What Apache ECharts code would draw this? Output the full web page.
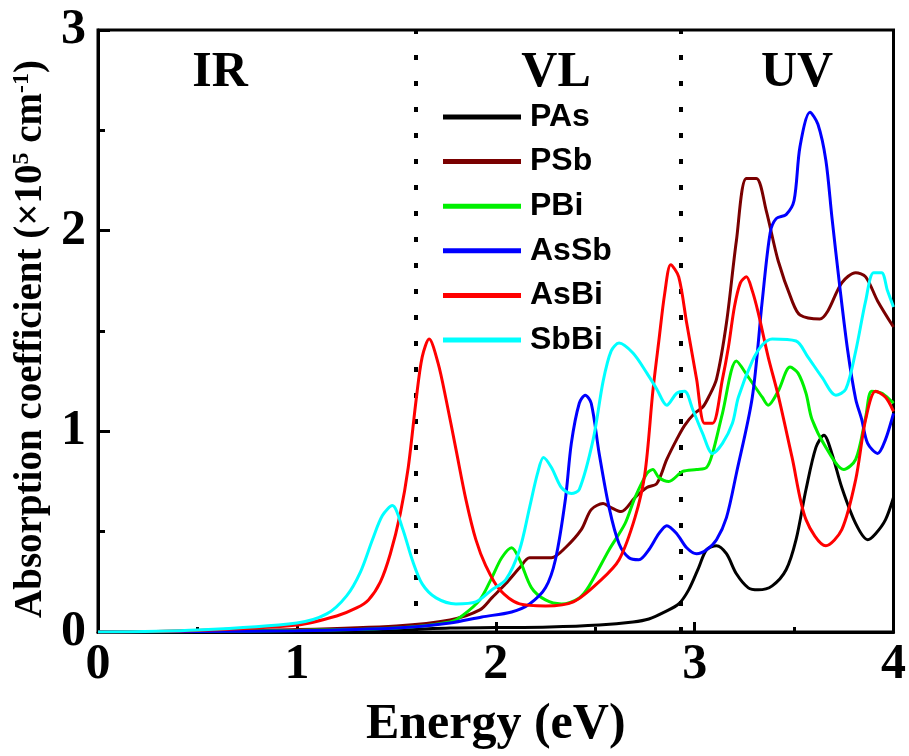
<!DOCTYPE html>
<html>
<head>
<meta charset="utf-8">
<script src="https://cdn.jsdelivr.net/npm/echarts@6/dist/echarts.min.js"></script>
<style>
  html, body { margin: 0; padding: 0; background: #fff; }
  #main { width: 909px; height: 756px; }
</style>
</head>
<body>
<div id="main"></div>
<script>
// data: [energy (eV), absorption (x10^5 cm^-1)]
var seriesNames = ['PAs', 'PSb', 'PBi', 'AsSb', 'AsBi', 'SbBi'];
var seriesColors = ['#000000', '#7a0000', '#00f000', '#0000ff', '#ff0000', '#00ffff'];
var xTicks = [0, 1, 2, 3, 4];
var yTicks = [0, 1, 2, 3];
var dividers = [1.6, 2.93];
var regions = ['IR', 'VL', 'UV'];

var pAs = [[0,0],[0.5,0.002],[1.0,0.005],[1.5,0.01],[1.77,0.02],[2.0,0.022],[2.27,0.025],[2.52,0.035],[2.69,0.05],[2.77,0.065],[2.85,0.1],[2.92,0.14],[2.97,0.21],[3.02,0.32],[3.06,0.41],[3.11,0.43],[3.16,0.39],[3.21,0.29],[3.27,0.22],[3.32,0.21],[3.39,0.23],[3.46,0.31],[3.51,0.46],[3.56,0.71],[3.61,0.92],[3.65,0.98],[3.69,0.89],[3.74,0.72],[3.81,0.54],[3.87,0.46],[3.91,0.49],[3.96,0.56],[4.0,0.67]];
var pSb = [[0,0],[0.5,0.005],[1.0,0.012],[1.5,0.03],[1.77,0.06],[1.92,0.11],[1.98,0.17],[2.05,0.24],[2.12,0.32],[2.17,0.37],[2.22,0.37],[2.28,0.37],[2.35,0.42],[2.43,0.51],[2.48,0.61],[2.54,0.64],[2.58,0.62],[2.63,0.60],[2.70,0.67],[2.76,0.72],[2.81,0.74],[2.86,0.86],[2.91,0.96],[2.95,1.03],[3.00,1.09],[3.04,1.12],[3.07,1.17],[3.11,1.26],[3.16,1.54],[3.21,1.95],[3.26,2.26],[3.31,2.26],[3.36,2.10],[3.42,1.85],[3.49,1.65],[3.53,1.58],[3.63,1.56],[3.67,1.60],[3.74,1.74],[3.81,1.79],[3.86,1.77],[3.92,1.65],[4.0,1.52]];
var pBi = [[0,0],[0.5,0.003],[1.0,0.008],[1.5,0.02],[1.77,0.05],[1.83,0.08],[1.92,0.16],[1.98,0.27],[2.03,0.37],[2.08,0.42],[2.12,0.36],[2.18,0.22],[2.25,0.16],[2.33,0.14],[2.42,0.17],[2.47,0.23],[2.57,0.41],[2.65,0.54],[2.70,0.67],[2.76,0.79],[2.79,0.81],[2.82,0.77],[2.87,0.75],[2.94,0.80],[3.01,0.81],[3.06,0.82],[3.09,0.89],[3.14,1.09],[3.21,1.35],[3.27,1.27],[3.34,1.17],[3.37,1.13],[3.42,1.20],[3.48,1.32],[3.52,1.29],[3.56,1.19],[3.59,1.06],[3.66,0.92],[3.75,0.81],[3.81,0.86],[3.86,1.07],[3.89,1.20],[3.94,1.19],[3.99,1.15],[4.0,1.14]];
var asSb = [[0,0],[0.5,0.002],[1.0,0.006],[1.5,0.02],[1.77,0.045],[1.93,0.075],[2.08,0.10],[2.17,0.14],[2.25,0.22],[2.30,0.36],[2.35,0.66],[2.38,0.94],[2.42,1.14],[2.45,1.18],[2.48,1.14],[2.52,0.89],[2.57,0.62],[2.62,0.44],[2.67,0.37],[2.72,0.36],[2.77,0.41],[2.82,0.49],[2.86,0.53],[2.91,0.49],[2.96,0.42],[3.01,0.39],[3.06,0.41],[3.11,0.46],[3.16,0.57],[3.21,0.79],[3.29,1.17],[3.34,1.65],[3.38,1.99],[3.41,2.06],[3.46,2.08],[3.50,2.15],[3.53,2.42],[3.58,2.59],[3.62,2.53],[3.66,2.35],[3.69,2.07],[3.73,1.72],[3.77,1.40],[3.81,1.16],[3.84,1.06],[3.87,0.94],[3.92,0.89],[3.96,0.96],[4.0,1.09]];
var asBi = [[0,0],[0.5,0.008],[1.0,0.035],[1.2,0.08],[1.3,0.12],[1.36,0.16],[1.42,0.25],[1.47,0.39],[1.52,0.59],[1.56,0.82],[1.60,1.16],[1.63,1.37],[1.665,1.46],[1.71,1.34],[1.75,1.16],[1.80,0.91],[1.85,0.66],[1.90,0.46],[1.95,0.33],[2.02,0.21],[2.12,0.14],[2.25,0.13],[2.39,0.15],[2.53,0.26],[2.62,0.36],[2.70,0.57],[2.75,0.79],[2.79,1.2],[2.82,1.45],[2.85,1.69],[2.88,1.83],[2.92,1.77],[2.96,1.54],[3.01,1.26],[3.05,1.04],[3.09,1.04],[3.14,1.26],[3.17,1.42],[3.20,1.62],[3.23,1.74],[3.26,1.77],[3.29,1.70],[3.32,1.59],[3.37,1.37],[3.42,1.18],[3.49,0.87],[3.56,0.56],[3.66,0.43],[3.74,0.51],[3.81,0.76],[3.86,1.06],[3.91,1.20],[3.96,1.17],[4.0,1.10]];
var sbBi = [[0,0],[0.5,0.01],[1.0,0.045],[1.15,0.09],[1.25,0.18],[1.32,0.30],[1.38,0.46],[1.43,0.58],[1.48,0.63],[1.53,0.52],[1.58,0.36],[1.63,0.24],[1.70,0.17],[1.80,0.14],[1.90,0.15],[1.98,0.21],[2.05,0.26],[2.12,0.41],[2.17,0.62],[2.21,0.79],[2.24,0.87],[2.28,0.82],[2.33,0.72],[2.38,0.69],[2.42,0.71],[2.49,0.96],[2.54,1.25],[2.58,1.40],[2.62,1.44],[2.69,1.39],[2.76,1.29],[2.81,1.21],[2.86,1.13],[2.91,1.19],[2.95,1.20],[2.99,1.11],[3.04,0.99],[3.09,0.89],[3.14,0.94],[3.19,1.04],[3.22,1.17],[3.29,1.35],[3.34,1.43],[3.39,1.46],[3.51,1.45],[3.57,1.37],[3.64,1.27],[3.71,1.18],[3.76,1.21],[3.81,1.40],[3.86,1.65],[3.90,1.79],[3.94,1.79],[3.97,1.70],[4.0,1.62]];

var allData = [pAs, pSb, pBi, asSb, asBi, sbBi];
var serif = '"Liberation Serif", "Times New Roman", serif';

var chart = echarts.init(document.getElementById('main'));

var series = seriesNames.map(function (name, i) {
  var s = {
    name: name,
    type: 'line',
    data: allData[i],
    showSymbol: false,
    smooth: 0.3,
    color: seriesColors[i],
    lineStyle: { width: 3, color: seriesColors[i] },
    z: 3 + i
  };
  if (i === 0) {
    s.markLine = {
      silent: true,
      symbol: 'none',
      label: { show: false },
      lineStyle: { color: '#000', width: 4, type: [5, 21] },
      data: dividers.map(function (d) { return { xAxis: d }; })
    };
  }
  return s;
});

var option = {
  backgroundColor: '#ffffff',
  animation: false,
  grid: {
    left: 98, right: 14, top: 30, bottom: 124,
    show: true, borderColor: '#000', borderWidth: 3
  },
  legend: {
    orient: 'vertical',
    left: 443,
    top: 101,
    padding: 0,
    itemGap: 12.6,
    icon: 'rect',
    itemWidth: 78,
    itemHeight: 5,
    data: seriesNames,
    textStyle: {
      fontFamily: '"Liberation Sans", Arial, sans-serif',
      fontWeight: 'bold',
      fontSize: 32,
      lineHeight: 32,
      color: '#000',
      padding: [0, 0, 0, 4]
    }
  },
  xAxis: {
    type: 'value',
    min: xTicks[0],
    max: xTicks[xTicks.length - 1],
    interval: 1,
    name: 'Energy (eV)',
    nameLocation: 'middle',
    nameGap: 68,
    nameTextStyle: { fontFamily: serif, fontWeight: 'bold', fontSize: 50, color: '#000' },
    axisLine: { lineStyle: { color: '#000', width: 3 } },
    axisTick: { inside: true, length: 10, lineStyle: { color: '#000', width: 3 } },
    minorTick: { show: true, splitNumber: 2, length: 5, lineStyle: { color: '#000', width: 3 } },
    splitLine: { show: false },
    axisLabel: { fontFamily: serif, fontWeight: 'bold', fontSize: 50, color: '#000', margin: 8 }
  },
  yAxis: {
    type: 'value',
    min: yTicks[0],
    max: yTicks[yTicks.length - 1],
    interval: 1,
    name: '{n|Absorption coefficient (×10}{s|5}{n| cm}{s|-1}{n|)}',
    nameLocation: 'middle',
    nameGap: 46,
    nameTextStyle: {
      padding: [0, 16, 0, 0],
      rich: {
        n: { fontFamily: serif, fontWeight: 'bold', fontSize: 39, color: '#000' },
        s: { fontFamily: serif, fontWeight: 'bold', fontSize: 24, color: '#000', verticalAlign: 'top', padding: [0, 0, 18, 0] }
      }
    },
    axisLine: { show: true, lineStyle: { color: '#000', width: 3 } },
    axisTick: { inside: true, length: 12, lineStyle: { color: '#000', width: 3 } },
    minorTick: { show: true, splitNumber: 2, length: 7, lineStyle: { color: '#000', width: 3 } },
    splitLine: { show: false },
    axisLabel: { fontFamily: serif, fontWeight: 'bold', fontSize: 50, color: '#000', margin: 12 }
  },
  graphic: [
    { type: 'text', x: 220, y: 73, style: { text: regions[0], font: 'bold 50px ' + serif, fill: '#000', align: 'center', verticalAlign: 'middle' } },
    { type: 'text', x: 556, y: 73, style: { text: regions[1], font: 'bold 50px ' + serif, fill: '#000', align: 'center', verticalAlign: 'middle' } },
    { type: 'text', x: 797, y: 73, style: { text: regions[2], font: 'bold 50px ' + serif, fill: '#000', align: 'center', verticalAlign: 'middle' } }
  ],
  series: series
};

chart.setOption(option);
</script>
</body>
</html>
